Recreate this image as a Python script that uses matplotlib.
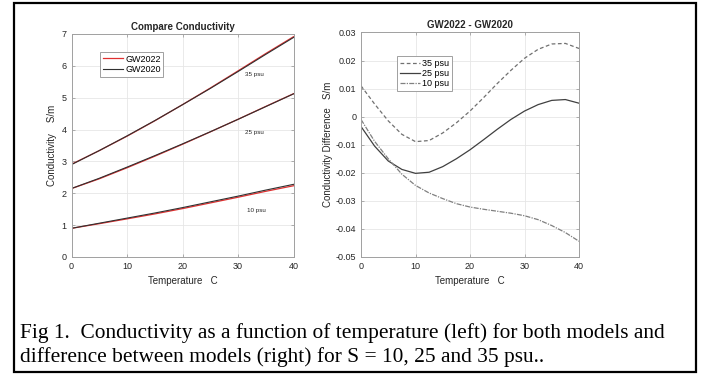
import matplotlib
matplotlib.use("Agg")
import matplotlib.pyplot as plt
from matplotlib.patches import Rectangle

plt.rcParams["font.family"] = ["Liberation Sans", "DejaVu Sans"]
plt.rcParams["axes.unicode_minus"] = False

# temperatures (C) for the left panel
T_LEFT = [0, 5, 10, 15, 20, 25, 30, 35, 40]

# conductivity S/m, GW2020 model
GW2020_35 = [2.90, 3.34, 3.80, 4.28, 4.78, 5.29, 5.82, 6.36, 6.89]
GW2020_25 = [2.15, 2.47, 2.82, 3.18, 3.55, 3.93, 4.32, 4.72, 5.12]
GW2020_10 = [0.90, 1.06, 1.22, 1.38, 1.55, 1.73, 1.91, 2.10, 2.28]

# conductivity S/m, GW2022 model
GW2022_35 = [2.911, 3.338, 3.791, 4.274, 4.782, 5.302, 5.841, 6.386, 6.914]
GW2022_25 = [2.147, 2.454, 2.800, 3.162, 3.538, 3.926, 4.322, 4.726, 5.125]
GW2022_10 = [0.899, 1.045, 1.196, 1.351, 1.518, 1.696, 1.875, 2.061, 2.236]

# temperatures for the difference panel
T_DIFF = [0, 2.5, 5, 7.5, 10, 12.5, 15, 17.5, 20, 22.5, 25, 27.5, 30, 32.5, 35, 37.5, 40]

# GW2022 - GW2020, S/m
DIFF_35 = [0.0110, 0.0045, -0.0015, -0.0063, -0.0089, -0.0085, -0.0058, -0.0022, 0.0020,
           0.0068, 0.0118, 0.0165, 0.0208, 0.0240, 0.0259, 0.0261, 0.0243]
DIFF_25 = [-0.0035, -0.0105, -0.0158, -0.0188, -0.0202, -0.0198, -0.0178, -0.0150, -0.0118,
           -0.0082, -0.0045, -0.0010, 0.0020, 0.0043, 0.0058, 0.0061, 0.0048]
DIFF_10 = [-0.0010, -0.0088, -0.0150, -0.0205, -0.0245, -0.0272, -0.0292, -0.0310, -0.0322,
           -0.0330, -0.0337, -0.0344, -0.0353, -0.0367, -0.0388, -0.0413, -0.0444]

CAPTION = ("Fig 1.  Conductivity as a function of temperature (left) for both models and\n"
           "difference between models (right) for S = 10, 25 and 35 psu..")

TXT = "#262626"


def _style(ax):
    ax.grid(True, color="#e6e6e6", linewidth=0.6)
    ax.set_axisbelow(True)
    for sp in ax.spines.values():
        sp.set_color("#a0a0a0")
        sp.set_linewidth(0.7)
    ax.tick_params(direction="in", length=2.5, width=0.6, color="#a0a0a0",
                   labelsize=6.5, labelcolor=TXT, top=True, right=True, pad=3.5)


fig = plt.figure(figsize=(7.15, 3.75), dpi=100)

# left: conductivity
ax1 = fig.add_axes([0.1000, 0.3147, 0.3105, 0.5947])
_style(ax1)
ax1.plot(T_LEFT, GW2022_35, color="#e03030", lw=0.9, label="GW2022")
ax1.plot(T_LEFT, GW2020_35, color="#303030", lw=0.8, label="GW2020")
ax1.plot(T_LEFT, GW2022_25, color="#e03030", lw=0.9)
ax1.plot(T_LEFT, GW2020_25, color="#303030", lw=0.8)
ax1.plot(T_LEFT, GW2022_10, color="#e03030", lw=0.9)
ax1.plot(T_LEFT, GW2020_10, color="#303030", lw=0.8)
ax1.set_xlim(0, 40)
ax1.set_ylim(0, 7)
ax1.set_xticks([0, 10, 20, 30, 40])
ax1.set_yticks(range(8))
ax1.set_xlabel("Temperature   C", fontsize=7, color=TXT, labelpad=3.5)
ax1.set_ylabel("Conductivity    S/m", fontsize=7, color=TXT, labelpad=3)
ax1.set_title("Compare Conductivity", fontsize=7, fontweight="bold", color=TXT, pad=3)
ax1.text(31.2, 5.72, "35 psu", fontsize=4.5, color=TXT, va="center")
ax1.text(31.2, 3.90, "25 psu", fontsize=4.5, color=TXT, va="center")
ax1.text(31.6, 1.46, "10 psu", fontsize=4.5, color=TXT, va="center")
leg = ax1.legend(loc="upper left", bbox_to_anchor=(0.13, 0.92), fontsize=6.5,
                 fancybox=False, edgecolor="#a0a0a0", framealpha=1, handlelength=2.2,
                 borderpad=0.3, labelspacing=0.15, handletextpad=0.25, borderaxespad=0)
leg.get_frame().set_linewidth(0.7)

# right: difference
ax2 = fig.add_axes([0.5049, 0.3147, 0.3049, 0.5987])
_style(ax2)
ax2.plot(T_DIFF, DIFF_35, color="#707070", lw=0.9, ls=(0, (3, 2)), label="35 psu")
ax2.plot(T_DIFF, DIFF_25, color="#404040", lw=0.9, ls="-", label="25 psu")
ax2.plot(T_DIFF, DIFF_10, color="#808080", lw=0.9, ls=(0, (4, 1, 1, 1)), label="10 psu")
ax2.set_xlim(0, 40)
ax2.set_ylim(-0.05, 0.03)
ax2.set_xticks([0, 10, 20, 30, 40])
yt = [-0.05, -0.04, -0.03, -0.02, -0.01, 0, 0.01, 0.02, 0.03]
ax2.set_yticks(yt)
ax2.set_yticklabels(["%g" % v for v in yt])
ax2.set_xlabel("Temperature   C", fontsize=7, color=TXT, labelpad=3.5)
ax2.set_ylabel("Conductivity Difference   S/m", fontsize=7, color=TXT, labelpad=2)
ax2.set_title("GW2022 - GW2020", fontsize=7, fontweight="bold", color=TXT, pad=3)
leg2 = ax2.legend(loc="upper left", bbox_to_anchor=(0.165, 0.895), fontsize=6.5,
                  fancybox=False, edgecolor="#a0a0a0", framealpha=1, handlelength=2.2,
                  borderpad=0.3, labelspacing=0.15, handletextpad=0.25, borderaxespad=0)
leg2.get_frame().set_linewidth(0.7)

# frame around the figure
fig.patches.append(Rectangle((14 / 715, 3 / 375), 682 / 715, 369 / 375,
                             transform=fig.transFigure, fill=False,
                             edgecolor="black", linewidth=1.6))

fig.text(20 / 715, 1 - 345 / 375, CAPTION, fontsize=15.4, family=["Liberation Serif"],
         color="black", ha="left", va="center", linespacing=1.22)

fig.savefig("out.png", dpi=100)
